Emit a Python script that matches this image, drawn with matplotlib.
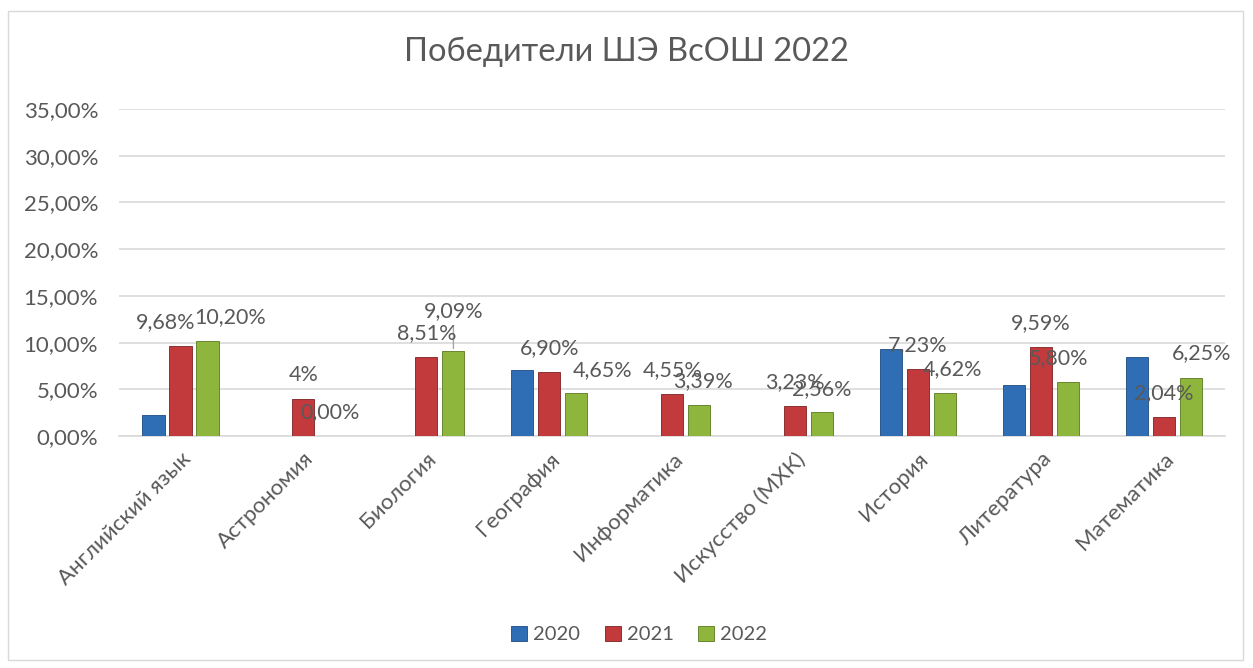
import matplotlib
matplotlib.use("Agg")
import matplotlib.pyplot as plt
import numpy as np
from matplotlib.patches import Rectangle

plt.rcParams['font.family'] = ['Lato', 'DejaVu Sans']

# data (percent); None = no bar in the original
subjects = ["Английский язык", "Астрономия", "Биология", "География", "Информатика",
            "Искусство (МХК)", "История", "Литература", "Математика"]
years = ["2020", "2021", "2022"]
v2020 = [2.3, None, None, 7.1, None, None, 9.3, 5.5, 8.5]
v2021 = [9.68, 4.0, 8.51, 6.90, 4.55, 3.23, 7.23, 9.59, 2.04]
v2022 = [10.20, 0.00, 9.09, 4.65, 3.39, 2.56, 4.62, 5.80, 6.25]
lab2021 = ["9,68%", "4%", "8,51%", "6,90%", "4,55%", "3,23%", "7,23%", "9,59%", "2,04%"]
lab2022 = ["10,20%", "0,00%", "9,09%", "4,65%", "3,39%", "2,56%", "4,62%", "5,80%", "6,25%"]
yticks = [0, 5, 10, 15, 20, 25, 30, 35]

colors = ["#2f6db5", "#c23a3c", "#8fb63c"]
edges = ["#1d4a80", "#7d2223", "#5a7a1e"]
grey = "#595959"

fig = plt.figure(figsize=(12.53, 6.68), dpi=100)
ax = fig.add_axes([0.095, 0.347, 0.883, 0.49])

x = np.arange(len(subjects))
step = 0.22
w = 0.18
series = [v2020, v2021, v2022]
for i, vals in enumerate(series):
    h = np.array([np.nan if v is None else v for v in vals], dtype=float)
    ax.bar(x + (i - 1) * step, h, w, color=colors[i], edgecolor=edges[i],
           linewidth=0.6, label=years[i], zorder=3)

# data labels for 2021 and 2022 (offsets in points)
off21 = [(-11, 17)] + [(0, 17)] * 8
off22 = [(16, 17), (0, 17), (0, 29), (19, 16), (3, 17), (0, 17), (5, 17), (-7, 17), (8, 18)]
for k in range(len(subjects)):
    ax.annotate(lab2021[k], (x[k], v2021[k]), xytext=off21[k], textcoords="offset points",
                ha="center", va="center", fontsize=15.5, color=grey, zorder=5)
    ax.annotate(lab2022[k], (x[k] + step, v2022[k]), xytext=off22[k], textcoords="offset points",
                ha="center", va="center", fontsize=15.5, color=grey, zorder=5)
# leader line for biology 2022
ax.annotate("", (x[2] + step, v2022[2]), xytext=(0, 20), textcoords="offset points",
            arrowprops=dict(arrowstyle="-", color="#a6a6a6", lw=1))

ax.set_xlim(-0.5, len(subjects) - 0.5)
ax.set_ylim(0, 35)
ax.set_yticks(yticks)
ax.set_yticklabels([f"{t:.2f}".replace(".", ",") + "%" for t in yticks], fontsize=16, color=grey)
ax.set_xticks(x)
ax.set_xticklabels(subjects, rotation=45, ha="right", rotation_mode="anchor",
                   fontsize=16, color=grey)
ax.tick_params(axis="x", length=0, pad=9)
ax.tick_params(axis="y", length=0, pad=15)
ax.yaxis.grid(True, color="#d9d9d9", linewidth=1.2, zorder=0)
for s in ["top", "right", "left"]:
    ax.spines[s].set_visible(False)
ax.spines["bottom"].set_color("#d9d9d9")
ax.spines["bottom"].set_linewidth(1.2)

fig.suptitle("Победители ШЭ ВсОШ 2022", y=0.945, fontsize=23.5, color=grey)

leg = fig.legend(loc="center", bbox_to_anchor=(0.51, 0.05), ncol=3, frameon=False,
                 fontsize=14.5, handlelength=0.8, handleheight=0.8, columnspacing=1.2,
                 handletextpad=0.3, labelcolor=grey)

fig.patches.append(Rectangle((0.006, 0.012), 0.986, 0.972, transform=fig.transFigure,
                             fill=False, edgecolor="#d9d9d9", linewidth=1))

fig.savefig("out.png", dpi=100)
